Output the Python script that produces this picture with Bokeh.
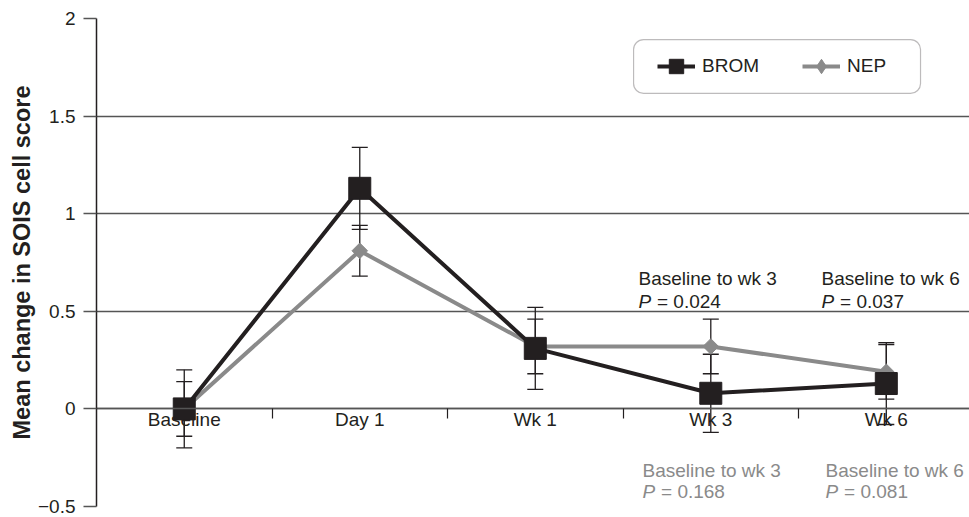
from bokeh.plotting import figure
from bokeh.models import (Range1d, FixedTicker, LinearAxis, Legend, LegendItem,
                          BoxAnnotation, Label, ColumnDataSource)
from bokeh.embed import file_html
from bokeh.resources import INLINE

# ---- data ----
categories = ["Baseline", "Day 1", "Wk 1", "Wk 3", "Wk 6"]
brom_mean = [0.0, 1.13, 0.31, 0.08, 0.13]
brom_err = [0.20, 0.21, 0.21, 0.20, 0.21]
nep_mean = [0.0, 0.81, 0.32, 0.32, 0.19]
nep_err = [0.14, 0.13, 0.14, 0.14, 0.14]
y_ticks = [-0.5, 0.0, 0.5, 1.0, 1.5, 2.0]
y_tick_labels = ["\u22120.5", "0", "0.5", "1", "1.5", "2"]
series_names = ["BROM", "NEP"]
brom_p_labels = ["Baseline to wk 3", "Baseline to wk 6"]
brom_p_values = ["0.024", "0.037"]
nep_p_labels = ["Baseline to wk 3", "Baseline to wk 6"]
nep_p_values = ["0.168", "0.081"]

# ---- styles / layout ----
FONT = "Liberation Sans"
DARK = "#231f20"
GRAY = "#8a8a8a"
GRID = "#555555"
FS = "19px"

x = list(range(len(categories)))
src = ColumnDataSource(dict(
    x=x,
    brom=brom_mean,
    brom_lo=[m - e for m, e in zip(brom_mean, brom_err)],
    brom_hi=[m + e for m, e in zip(brom_mean, brom_err)],
    nep=nep_mean,
    nep_lo=[m - e for m, e in zip(nep_mean, nep_err)],
    nep_hi=[m + e for m, e in zip(nep_mean, nep_err)],
))

p = figure(width=969, height=517, output_backend="svg", toolbar_location=None,
           x_range=Range1d(-0.5, len(categories) - 0.526),
           y_range=Range1d(y_ticks[0], y_ticks[-1]),
           x_axis_type=None,
           min_border_left=96, min_border_top=18, min_border_bottom=11,
           min_border_right=0)
p.outline_line_color = None
p.background_fill_color = "white"
p.border_fill_color = "white"

# y axis
yax = p.yaxis[0]
yax.ticker = FixedTicker(ticks=y_ticks)
yax.major_label_overrides = dict(zip(y_ticks, y_tick_labels))
yax.axis_line_color = DARK
yax.axis_line_width = 1.5
yax.major_tick_out = 13
yax.major_tick_in = 0
yax.major_tick_line_color = GRID
yax.major_tick_line_width = 1.5
yax.minor_tick_line_color = None
yax.major_label_standoff = 8
yax.major_label_text_font = FONT
yax.major_label_text_font_size = FS
yax.major_label_text_color = DARK
yax.axis_label = "Mean change in SOIS cell score"
yax.axis_label_text_font = FONT
yax.axis_label_text_font_size = "23.5px"
yax.axis_label_text_font_style = "bold"
yax.axis_label_text_color = DARK
yax.axis_label_standoff = 0

p.ygrid.ticker = FixedTicker(ticks=y_ticks)
p.ygrid.grid_line_color = GRID
p.ygrid.grid_line_width = 1.5

# x axis at y = 0 : category labels, separator ticks as minor ticks
xax = LinearAxis(ticker=FixedTicker(ticks=x, minor_ticks=[i + 0.5 for i in x[:-1]]),
                 fixed_location=0,
                 major_label_overrides=dict(zip(x, categories)),
                 major_tick_out=0, major_tick_in=0,
                 minor_tick_out=10, minor_tick_in=0,
                 minor_tick_line_color=DARK, minor_tick_line_width=1.2,
                 axis_line_color=GRID, axis_line_width=1.5,
                 major_label_standoff=-10,
                 major_label_text_font=FONT, major_label_text_font_size=FS,
                 major_label_text_color=DARK)
p.add_layout(xax, "below")

# error bars
for lo, hi in (("nep_lo", "nep_hi"), ("brom_lo", "brom_hi")):
    p.segment(x0="x", y0=lo, x1="x", y1=hi, source=src, line_color=DARK, line_width=1.3)
    p.scatter(x="x", y=lo, source=src, marker="dash", size=16, line_color=DARK, line_width=1.3)
    p.scatter(x="x", y=hi, source=src, marker="dash", size=16, line_color=DARK, line_width=1.3)

nep_line = p.line(x="x", y="nep", source=src, line_color=GRAY, line_width=4)
brom_line = p.line(x="x", y="brom", source=src, line_color=DARK, line_width=4)
nep_pts = p.scatter(x="x", y="nep", source=src, marker="square", angle=0.7854, size=11,
                    fill_color=GRAY, line_color=GRAY)
brom_pts = p.scatter(x="x", y="brom", source=src, marker="square", size=22,
                     fill_color=DARK, line_color=DARK)
# legend key for NEP: a diamond (the legend does not rotate markers); size 0 in the plot
nep_key = p.scatter(x="x", y="nep", source=src, marker="diamond", size=0,
                    fill_color=GRAY, line_color=GRAY)

# legend
box = BoxAnnotation(left=2.56, right=4.195, top=1.892, bottom=1.616,
                    fill_color=None, line_color=DARK, line_width=1.2, border_radius=10)
p.add_layout(box)
legend = Legend(items=[LegendItem(label=series_names[0], renderers=[brom_line, brom_pts]),
                       LegendItem(label=series_names[1], renderers=[nep_line, nep_key])],
                orientation="horizontal", location=(561, 422), glyph_width=38,
                glyph_height=36, label_standoff=7, spacing=43, padding=0, margin=0,
                border_line_color=None, background_fill_alpha=0,
                label_text_font=FONT, label_text_font_size=FS, label_text_color=DARK)
p.add_layout(legend)

# p-value annotations
def add_note(xpos, y1, y2, title, pval, color):
    p.add_layout(Label(x=xpos, y=y1, text=title, text_font=FONT, text_font_size=FS,
                       text_color=color, text_baseline="middle"))
    p.add_layout(Label(x=xpos, y=y2, text="P", text_font=FONT, text_font_size=FS,
                       text_font_style="italic", text_color=color, text_baseline="middle"))
    p.add_layout(Label(x=xpos, y=y2, x_offset=18.5, text="= " + pval, text_font=FONT,
                       text_font_size=FS, text_color=color, text_baseline="middle"))

note_dx_brom = [-0.412, -0.369]
note_dx_nep = [-0.389, -0.346]
for i, cat_idx in enumerate([3, 4]):
    add_note(cat_idx + note_dx_brom[i], 0.668, 0.550, brom_p_labels[i], brom_p_values[i], DARK)
    add_note(cat_idx + note_dx_nep[i], -0.316, -0.423, nep_p_labels[i], nep_p_values[i], GRAY)

open("out.html", "w").write(file_html(p, INLINE))
